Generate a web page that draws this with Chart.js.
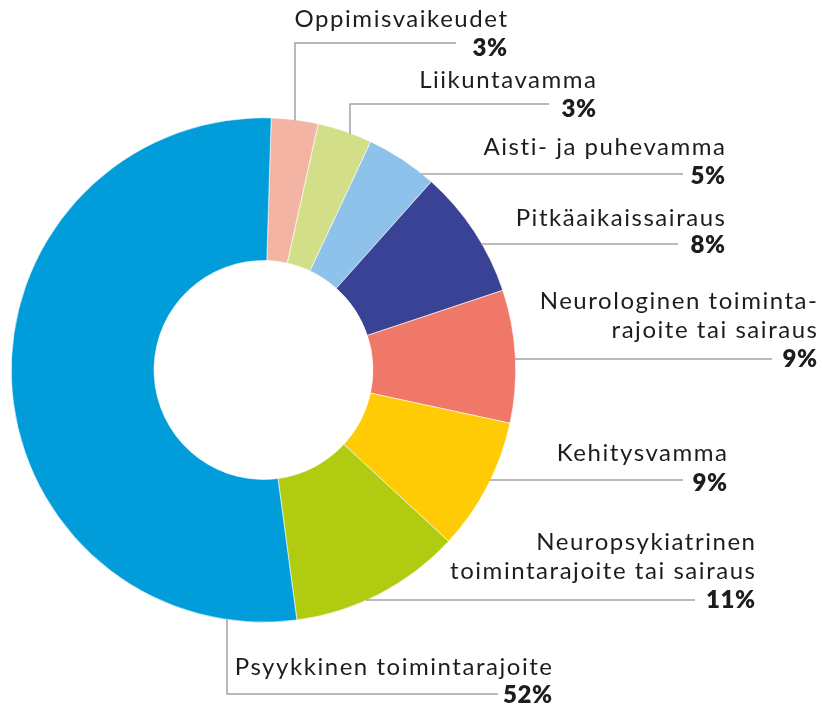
<!DOCTYPE html>
<html>
<head>
<meta charset="utf-8">
<script src="https://cdn.jsdelivr.net/npm/chart.js@4"></script>
<style>
  html, body { margin: 0; padding: 0; background: #ffffff; }
  #wrap { width: 822px; height: 710px; position: relative; }
</style>
</head>
<body>
<div id="wrap"><canvas id="c" width="822" height="710"></canvas></div>
<script>
// ---- data ----
const categories = [
  "Oppimisvaikeudet",
  "Liikuntavamma",
  "Aisti- ja puhevamma",
  "Pitkäaikaissairaus",
  "Neurologinen toimintarajoite tai sairaus",
  "Kehitysvamma",
  "Neuropsykiatrinen toimintarajoite tai sairaus",
  "Psyykkinen toimintarajoite"
];
const values = [3.0, 3.5, 4.6, 8.3, 8.5, 8.5, 11.0, 52.6];
const percentLabels = ["3%", "3%", "5%", "8%", "9%", "9%", "11%", "52%"];
const colors = ["#F4B4A4", "#D3DF88", "#8EC2EA", "#394294", "#EF7868", "#FFCB05", "#B0CB10", "#009DDA"];

// ---- label layout (annotation placement only) ----
const labelLayout = [
  { lines: ["Oppimisvaikeudet"], right: 507, base: 27, pctBase: 56, lineY: 43, lineEnd: 456, vx: 295 },
  { lines: ["Liikuntavamma"], right: 596, base: 88, pctBase: 117, lineY: 104, lineEnd: 549, vx: 350 },
  { lines: ["Aisti- ja puhevamma"], right: 725, base: 155, pctBase: 184, lineY: 174, lineEnd: 683 },
  { lines: ["Pitkäaikaissairaus"], right: 725, base: 226, pctBase: 253, lineY: 244, lineEnd: 678 },
  { lines: ["Neurologinen toiminta-", "rajoite tai sairaus"], right: 817, base: 309, lh: 29, pctBase: 367, lineY: 359, lineEnd: 772 },
  { lines: ["Kehitysvamma"], right: 727, base: 461, pctBase: 491, lineY: 480, lineEnd: 683 },
  { lines: ["Neuropsykiatrinen", "toimintarajoite tai sairaus"], right: 755, base: 550, lh: 28.5, pctBase: 608, lineY: 600, lineEnd: 695 },
  { lines: ["Psyykkinen toimintarajoite"], right: 552, base: 675, pctBase: 703, lineY: 694, lineEnd: 498, vx: 227, down: true }
];

const labelPlugin = {
  id: 'leaderLabels',
  afterDraw(chart) {
    const ctx = chart.ctx;
    const arc0 = chart.getDatasetMeta(0).data[0];
    const cx = arc0.x, cy = arc0.y, R = arc0.outerRadius;
    ctx.save();
    ctx.strokeStyle = '#a3a3a3';
    ctx.lineWidth = 1.5;

    const labelFont = '400 24px Lato';
    ctx.font = labelFont;
    ctx.letterSpacing = '0px';
    const refW = ctx.measureText('Oppimisvaikeudet').width;
    const spacing = Math.max(0, (214 - refW) / 16);

    labelLayout.forEach((L, i) => {
      ctx.beginPath();
      if (L.vx !== undefined) {
        const dx = L.vx - cx;
        const dy = Math.sqrt(Math.max(0, R * R - dx * dx));
        const yRing = L.down ? cy + dy - 1 : cy - dy + 1;
        ctx.moveTo(L.vx, yRing);
        ctx.lineTo(L.vx, L.lineY);
        ctx.lineTo(L.lineEnd, L.lineY);
      } else {
        const dy = L.lineY - cy;
        const dx = Math.sqrt(Math.max(0, R * R - dy * dy));
        ctx.moveTo(cx + dx - 1, L.lineY);
        ctx.lineTo(L.lineEnd, L.lineY);
      }
      ctx.stroke();

      ctx.fillStyle = '#1d1d1b';
      ctx.textAlign = 'right';
      ctx.textBaseline = 'alphabetic';
      ctx.font = labelFont;
      ctx.letterSpacing = spacing.toFixed(2) + 'px';
      L.lines.forEach((t, k) => {
        ctx.fillText(t, L.right + spacing, L.base + k * (L.lh || 29));
      });
      ctx.font = '800 24px Lato';
      ctx.letterSpacing = '0.5px';
      ctx.fillText(percentLabels[i], L.right + 0.5, L.pctBase);
    });
    ctx.restore();
  }
};

new Chart(document.getElementById('c'), {
  type: 'doughnut',
  data: {
    labels: categories,
    datasets: [{
      data: values,
      backgroundColor: colors,
      borderColor: '#ffffff',
      borderWidth: 0.6
    }]
  },
  options: {
    responsive: false,
    animation: false,
    rotation: 1.75,
    cutout: '43.4%',
    layout: { padding: { left: 11, top: 117.5, right: 306, bottom: 87.5 } },
    plugins: {
      legend: { display: false },
      tooltip: { enabled: false }
    }
  },
  plugins: [labelPlugin]
});
</script>
</body>
</html>
